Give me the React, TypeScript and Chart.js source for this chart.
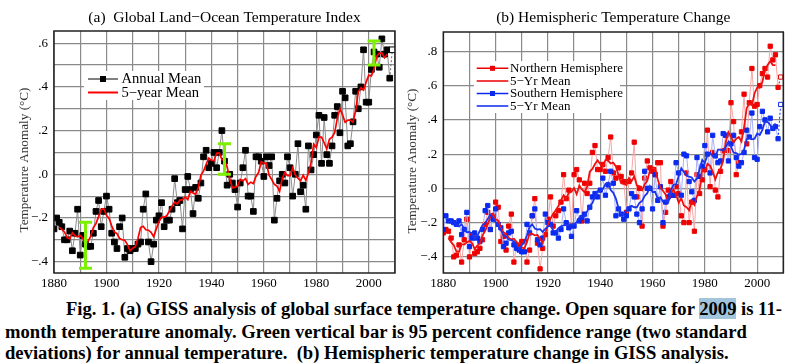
import { useEffect, useRef } from "react";
import { Chart, registerables } from "chart.js";
Chart.register(...registerables);

const FONT = "'Liberation Serif', 'Times New Roman', serif";

const years = [
  1880,1881,1882,1883,1884,1885,1886,1887,1888,1889,
  1890,1891,1892,1893,1894,1895,1896,1897,1898,1899,
  1900,1901,1902,1903,1904,1905,1906,1907,1908,1909,
  1910,1911,1912,1913,1914,1915,1916,1917,1918,1919,
  1920,1921,1922,1923,1924,1925,1926,1927,1928,1929,
  1930,1931,1932,1933,1934,1935,1936,1937,1938,1939,
  1940,1941,1942,1943,1944,1945,1946,1947,1948,1949,
  1950,1951,1952,1953,1954,1955,1956,1957,1958,1959,
  1960,1961,1962,1963,1964,1965,1966,1967,1968,1969,
  1970,1971,1972,1973,1974,1975,1976,1977,1978,1979,
  1980,1981,1982,1983,1984,1985,1986,1987,1988,1989,
  1990,1991,1992,1993,1994,1995,1996,1997,1998,1999,
  2000,2001,2002,2003,2004,2005,2006,2007,2008,2009,
];

const globalAnnual = [
  -0.25,-0.20,-0.22,-0.24,-0.30,-0.30,-0.26,-0.35,-0.27,-0.16,
  -0.37,-0.28,-0.32,-0.33,-0.33,-0.27,-0.17,-0.12,-0.24,-0.17,
  -0.10,-0.16,-0.27,-0.31,-0.34,-0.24,-0.20,-0.38,-0.34,-0.35,
  -0.34,-0.34,-0.32,-0.31,-0.16,-0.09,-0.31,-0.40,-0.32,-0.21,
  -0.19,-0.13,-0.24,-0.21,-0.21,-0.16,-0.02,-0.13,-0.12,-0.25,
  -0.07,-0.01,-0.07,-0.18,-0.06,-0.11,-0.04,0.08,0.11,0.03,
  0.05,0.10,0.03,0.10,0.20,0.06,-0.05,0.00,-0.04,-0.07,
  -0.15,-0.04,0.03,0.11,-0.10,-0.10,-0.17,0.08,0.08,0.06,
  -0.01,0.08,0.04,0.08,-0.21,-0.11,-0.03,0.00,-0.04,0.08,
  0.03,-0.10,0.00,0.14,-0.08,-0.05,-0.16,0.13,0.02,0.09,
  0.18,0.27,0.05,0.26,0.09,0.05,0.13,0.27,0.31,0.19,
  0.38,0.35,0.13,0.14,0.24,0.38,0.30,0.40,0.57,0.33,
  0.33,0.48,0.56,0.55,0.49,0.62,0.55,0.57,0.44,0.57,
];

// 5-year running means, 1882..2007
const globalFiveYear = [
  -0.242,-0.252,-0.264,-0.290,-0.296,-0.268,-0.282,-0.286,-0.280,-0.292,
  -0.326,-0.306,-0.284,-0.244,-0.226,-0.194,-0.160,-0.158,-0.188,-0.202,
  -0.236,-0.264,-0.272,-0.294,-0.300,-0.302,-0.322,-0.350,-0.338,-0.332,
  -0.294,-0.244,-0.238,-0.254,-0.256,-0.266,-0.286,-0.250,-0.218,-0.196,
  -0.196,-0.190,-0.168,-0.146,-0.128,-0.136,-0.118,-0.116,-0.104,-0.116,
  -0.078,-0.086,-0.092,-0.062,-0.004,0.014,0.046,0.074,0.064,0.062,
  0.096,0.098,0.068,0.062,0.034,-0.020,-0.062,-0.060,-0.054,-0.024,
  -0.030,-0.020,-0.046,-0.036,-0.042,-0.010,0.008,0.058,0.050,0.050,
  -0.004,-0.024,-0.046,-0.054,-0.078,-0.020,0.008,-0.006,-0.006,0.030,
  -0.002,-0.018,-0.030,-0.004,-0.028,0.006,0.052,0.138,0.122,0.170,
  0.170,0.144,0.116,0.160,0.170,0.190,0.256,0.300,0.272,0.238,
  0.248,0.248,0.238,0.292,0.378,0.396,0.386,0.422,0.454,0.450,
  0.482,0.540,0.554,0.556,0.534,0.550,
];

const nhAnnual = [
  -0.26,-0.24,-0.25,-0.29,-0.40,-0.39,-0.33,-0.43,-0.30,-0.18,
  -0.40,-0.27,-0.38,-0.37,-0.35,-0.30,-0.21,-0.14,-0.24,-0.16,
  -0.08,-0.11,-0.31,-0.28,-0.36,-0.22,-0.15,-0.43,-0.33,-0.34,
  -0.31,-0.31,-0.43,-0.36,-0.16,-0.06,-0.32,-0.47,-0.35,-0.27,
  -0.18,-0.05,-0.22,-0.16,-0.13,-0.08,0.08,-0.06,-0.01,-0.22,
  0.08,0.11,0.05,-0.19,0.03,-0.03,0.03,0.21,0.25,0.11,
  0.11,0.14,0.10,0.18,0.30,0.09,0.06,0.12,0.07,0.04,
  -0.14,0.04,0.09,0.27,-0.05,0.00,-0.22,0.06,0.16,0.12,
  0.10,0.08,0.15,0.15,-0.22,-0.14,-0.01,0.04,-0.04,0.01,
  -0.03,-0.16,-0.20,0.09,-0.20,-0.08,-0.25,0.08,-0.03,0.05,
  0.11,0.34,0.01,0.21,-0.01,-0.05,0.10,0.22,0.31,0.22,
  0.50,0.39,0.08,0.15,0.33,0.55,0.26,0.50,0.70,0.48,
  0.49,0.60,0.67,0.70,0.65,0.83,0.75,0.78,0.59,0.65,
];

const nhFiveYear = [
  -0.288,-0.314,-0.332,-0.368,-0.370,-0.326,-0.328,-0.316,-0.306,-0.320,
  -0.354,-0.334,-0.322,-0.274,-0.248,-0.210,-0.166,-0.146,-0.180,-0.188,
  -0.228,-0.256,-0.264,-0.288,-0.298,-0.294,-0.312,-0.344,-0.344,-0.350,
  -0.314,-0.264,-0.266,-0.274,-0.272,-0.294,-0.318,-0.264,-0.214,-0.176,
  -0.148,-0.128,-0.102,-0.070,-0.040,-0.058,-0.026,-0.020,0.002,-0.034,
  0.016,-0.006,-0.022,0.010,0.098,0.114,0.142,0.164,0.142,0.128,
  0.166,0.162,0.146,0.150,0.128,0.076,0.030,0.026,0.020,0.060,
  0.042,0.070,0.018,0.012,-0.010,0.024,0.044,0.104,0.122,0.120,
  0.052,0.004,-0.014,-0.036,-0.074,-0.028,-0.006,-0.036,-0.084,-0.058,
  -0.100,-0.110,-0.128,-0.072,-0.096,-0.046,-0.008,0.110,0.096,0.144,
  0.132,0.100,0.052,0.094,0.114,0.160,0.270,0.328,0.300,0.268,
  0.290,0.300,0.274,0.358,0.468,0.498,0.486,0.554,0.588,0.588,
  0.622,0.690,0.720,0.742,0.720,0.720,
];

const shAnnual = [
  -0.24,-0.16,-0.19,-0.19,-0.20,-0.21,-0.19,-0.27,-0.24,-0.14,
  -0.34,-0.29,-0.26,-0.29,-0.31,-0.24,-0.13,-0.10,-0.24,-0.18,
  -0.12,-0.21,-0.23,-0.34,-0.32,-0.26,-0.25,-0.33,-0.35,-0.36,
  -0.37,-0.37,-0.21,-0.26,-0.16,-0.12,-0.30,-0.33,-0.29,-0.15,
  -0.20,-0.21,-0.26,-0.26,-0.29,-0.24,-0.12,-0.20,-0.23,-0.28,
  -0.22,-0.13,-0.19,-0.17,-0.15,-0.19,-0.11,-0.05,-0.03,-0.05,
  -0.01,0.06,-0.04,0.02,0.10,0.03,-0.16,-0.12,-0.15,-0.18,
  -0.16,-0.12,-0.03,-0.05,-0.15,-0.20,-0.12,0.10,0.00,0.00,
  -0.12,0.08,-0.07,0.01,-0.20,-0.08,-0.05,-0.04,-0.04,0.15,
  0.09,-0.04,0.20,0.19,0.04,-0.02,-0.07,0.18,0.07,0.13,
  0.25,0.20,0.09,0.31,0.19,0.15,0.16,0.32,0.31,0.16,
  0.26,0.31,0.18,0.13,0.15,0.21,0.34,0.30,0.44,0.18,
  0.17,0.36,0.45,0.40,0.33,0.41,0.35,0.36,0.29,0.49,
];

const shFiveYear = [
  -0.196,-0.190,-0.196,-0.212,-0.222,-0.210,-0.236,-0.256,-0.254,-0.264,
  -0.298,-0.278,-0.246,-0.214,-0.204,-0.178,-0.154,-0.170,-0.196,-0.216,
  -0.244,-0.272,-0.280,-0.300,-0.302,-0.310,-0.332,-0.356,-0.332,-0.314,
  -0.274,-0.224,-0.210,-0.234,-0.240,-0.238,-0.254,-0.236,-0.222,-0.216,
  -0.244,-0.252,-0.234,-0.222,-0.216,-0.214,-0.210,-0.212,-0.210,-0.198,
  -0.172,-0.166,-0.162,-0.134,-0.106,-0.086,-0.050,-0.016,-0.014,-0.004,
  0.026,0.034,-0.010,-0.026,-0.060,-0.116,-0.154,-0.146,-0.128,-0.108,
  -0.102,-0.110,-0.110,-0.084,-0.074,-0.044,-0.028,0.012,-0.022,-0.020,
  -0.060,-0.052,-0.078,-0.072,-0.082,-0.012,0.022,0.024,0.072,0.118,
  0.096,0.074,0.068,0.064,0.040,0.058,0.112,0.166,0.148,0.196,
  0.208,0.188,0.180,0.226,0.226,0.220,0.242,0.272,0.244,0.208,
  0.206,0.196,0.202,0.226,0.288,0.294,0.286,0.290,0.320,0.312,
  0.342,0.390,0.388,0.370,0.348,0.380,
];

// 95% confidence bars (green)
const ciYears = [1892, 1945, 2002];
const ciLow = [-0.43, 0.0, 0.5];
const ciHigh = [-0.22, 0.14, 0.61];

const xGrid = [1880,1890,1900,1910,1920,1930,1940,1950,1960,1970,1980,1990,2000,2010];
const xLabels = ["1880","","1900","","1920","","1940","","1960","","1980","","2000",""];
const leftYGrid = [-0.4,-0.3,-0.2,-0.1,0,0.1,0.2,0.3,0.4,0.5,0.6];
const leftYLabels = ["\u2212.4","","\u2212.2","",".0","",".2","",".4","",".6"];
const rightYGrid = [-0.4,-0.2,0,0.2,0.4,0.6,0.8];
const rightYLabels = ["\u2212.4","\u2212.2",".0",".2",".4",".6",".8"];

const LAST = years.length - 1;
const fiveYears = years.slice(2, 2 + globalFiveYear.length);

const pts = (xs: number[], ys: number[]) => xs.map((x, i) => ({ x, y: ys[i] }));

const decorPlugin = {
  id: "decor",
  afterDatasetsDraw(chart: any, _args: any, opts: any) {
    const { ctx, scales } = chart;
    if (opts.ci) {
      ctx.save();
      ctx.strokeStyle = opts.ci.color;
      ctx.lineWidth = 3;
      opts.ci.years.forEach((yr: number, i: number) => {
        const x = scales.x.getPixelForValue(yr);
        const y1 = scales.y.getPixelForValue(opts.ci.low[i]);
        const y2 = scales.y.getPixelForValue(opts.ci.high[i]);
        ctx.beginPath();
        ctx.moveTo(x, y1);
        ctx.lineTo(x, y2);
        ctx.moveTo(x - 6.5, y1);
        ctx.lineTo(x + 6.5, y1);
        ctx.moveTo(x - 6.5, y2);
        ctx.lineTo(x + 6.5, y2);
        ctx.stroke();
      });
      ctx.restore();
    }
  },
  afterDraw(chart: any, _args: any, opts: any) {
    const { ctx, chartArea: a } = chart;
    ctx.save();
    // legend
    const lg = opts.legend;
    ctx.fillStyle = "#fff";
    ctx.fillRect(lg.box[0], lg.box[1], lg.box[2], lg.box[3]);
    ctx.font = `${lg.size}px ${FONT}`;
    ctx.textAlign = "left";
    ctx.textBaseline = "middle";
    lg.items.forEach((it: any, i: number) => {
      const y = lg.y + i * lg.rowH;
      ctx.strokeStyle = it.color;
      ctx.lineWidth = it.width;
      ctx.beginPath();
      ctx.moveTo(lg.x0, y);
      ctx.lineTo(lg.x1, y);
      ctx.stroke();
      if (it.marker) {
        ctx.fillStyle = it.color;
        const s = lg.marker;
        ctx.fillRect((lg.x0 + lg.x1) / 2 - s / 2, y - s / 2, s, s);
      }
      ctx.fillStyle = "#000";
      ctx.fillText(it.text, lg.tx, y + 0.5);
    });
    // border
    ctx.strokeStyle = "#222";
    ctx.lineWidth = 1.5;
    ctx.strokeRect(a.left, a.top, a.right - a.left, a.bottom - a.top);
    // title
    ctx.fillStyle = "#000";
    ctx.font = `15.5px ${FONT}`;
    ctx.textAlign = "center";
    ctx.textBaseline = "middle";
    ctx.fillText(opts.title, (a.left + a.right) / 2, opts.titleY);
    // y title
    ctx.translate(opts.yTitleX, opts.yTitleY);
    ctx.rotate(-Math.PI / 2);
    ctx.fillStyle = "#333";
    ctx.font = `13.2px ${FONT}`;
    ctx.fillText("Temperature Anomaly (\u00B0C)", 0, 0);
    ctx.restore();
  },
};

function scalesFor(yMin: number, yMax: number, yGrid: number[], yLabels: string[], yWidth: number) {
  const tickFont = { family: FONT, size: 13 };
  return {
    x: {
      type: "linear",
      min: 1880,
      max: 2010,
      afterBuildTicks: (s: any) => {
        s.ticks = xGrid.map((v) => ({ value: v }));
      },
      afterFit: (s: any) => {
        s.height = 17;
      },
      grid: { color: "#8a8a8a", lineWidth: 1.2, drawTicks: false },
      border: { display: false },
      ticks: {
        autoSkip: false,
        maxRotation: 0,
        padding: 3,
        color: "#000",
        font: tickFont,
        callback: (_v: any, i: number) => xLabels[i],
      },
    },
    y: {
      type: "linear",
      min: yMin,
      max: yMax,
      afterBuildTicks: (s: any) => {
        s.ticks = yGrid.map((v) => ({ value: v }));
      },
      afterFit: (s: any) => {
        s.width = yWidth;
      },
      grid: { color: "#8a8a8a", lineWidth: 1.2, drawTicks: false },
      border: { display: false },
      ticks: {
        autoSkip: false,
        padding: 6,
        color: "#000",
        font: tickFont,
        callback: (_v: any, i: number) => yLabels[i],
      },
    },
  };
}

function lastDash(color: string) {
  return {
    borderDash: (c: any) => (c.p1DataIndex === LAST ? [2, 2] : undefined),
    borderColor: (c: any) => (c.p1DataIndex === LAST ? color : undefined),
  };
}

function openLast(fill: string) {
  return years.map((_, i) => (i === LAST ? "#ffffff" : fill));
}

function LeftChart() {
  const ref = useRef<HTMLCanvasElement>(null);
  useEffect(() => {
    const chart = new Chart(ref.current as HTMLCanvasElement, {
      type: "line",
      data: {
        datasets: [
          {
            label: "5\u2212year Mean",
            data: pts(fiveYears, globalFiveYear),
            borderColor: "#ff0000",
            borderWidth: 1.7,
            pointRadius: 0,
            order: 0,
          },
          {
            label: "Annual Mean",
            data: pts(years, globalAnnual),
            borderColor: "#8c8c8c",
            borderWidth: 1,
            pointStyle: "rect",
            pointRadius: 4,
            pointBorderWidth: 1,
            pointBorderColor: "#000",
            pointBackgroundColor: openLast("#000"),
            segment: lastDash("#666"),
            order: 1,
          },
        ],
      } as any,
      options: {
        responsive: false,
        animation: false,
        events: [],
        layout: { padding: { left: 0, right: 3, top: 31, bottom: 0 } },
        plugins: {
          legend: { display: false },
          tooltip: { enabled: false },
          decor: {
            title: "(a)  Global Land\u2212Ocean Temperature Index",
            titleY: 18,
            yTitleX: 25,
            yTitleY: 160,
            ci: { years: ciYears, low: ciLow, high: ciHigh, color: "#7cf000" },
            legend: {
              box: [84, 71, 120, 29],
              x0: 88,
              x1: 118,
              tx: 121.5,
              y: 79,
              rowH: 13.5,
              size: 14.6,
              marker: 6,
              items: [
                { text: "Annual Mean", color: "#000", width: 1, marker: true },
                { text: "5\u2212year Mean", color: "#ff0000", width: 2, marker: false },
              ],
            },
          },
        } as any,
        scales: scalesFor(-0.452, 0.656, leftYGrid, leftYLabels, 54) as any,
      },
      plugins: [decorPlugin],
    });
    return () => chart.destroy();
  }, []);
  return <canvas ref={ref} width={400} height={290} style={{ position: "absolute", left: 0, top: 0 }} />;
}

function RightChart() {
  const ref = useRef<HTMLCanvasElement>(null);
  useEffect(() => {
    const chart = new Chart(ref.current as HTMLCanvasElement, {
      type: "line",
      data: {
        datasets: [
          {
            label: "SH 5-Yr Mean",
            data: pts(fiveYears, shFiveYear),
            borderColor: "#1a35f0",
            borderWidth: 1.8,
            pointRadius: 0,
            order: 0,
          },
          {
            label: "NH 5-Yr Mean",
            data: pts(fiveYears, nhFiveYear),
            borderColor: "#f01010",
            borderWidth: 1.8,
            pointRadius: 0,
            order: 1,
          },
          {
            label: "Southern Hemisphere",
            data: pts(years, shAnnual),
            borderColor: "#a9b0f7",
            borderWidth: 1,
            pointStyle: "rect",
            pointRadius: 3,
            pointBorderWidth: 1,
            pointBorderColor: "#0a2af0",
            pointBackgroundColor: openLast("#0a2af0"),
            segment: lastDash("#0a2af0"),
            order: 2,
          },
          {
            label: "Northern Hemisphere",
            data: pts(years, nhAnnual),
            borderColor: "#f6a6a6",
            borderWidth: 1,
            pointStyle: "rect",
            pointRadius: 3,
            pointBorderWidth: 1,
            pointBorderColor: "#ee0000",
            pointBackgroundColor: openLast("#ee0000"),
            segment: lastDash("#ee0000"),
            order: 3,
          },
        ],
      } as any,
      options: {
        responsive: false,
        animation: false,
        events: [],
        layout: { padding: { left: 0, right: 12.7, top: 32, bottom: 0 } },
        plugins: {
          legend: { display: false },
          tooltip: { enabled: false },
          decor: {
            title: "(b) Hemispheric Temperature Change",
            titleY: 18,
            yTitleX: 13,
            yTitleY: 161,
            legend: {
              box: [74, 61, 146, 52],
              x0: 76.7,
              x1: 108.3,
              tx: 110,
              y: 68.3,
              rowH: 12.6,
              size: 13,
              marker: 5,
              items: [
                { text: "Northern Hemisphere", color: "#ee0000", width: 1.5, marker: true },
                { text: "5\u2212Yr Mean", color: "#ee0000", width: 1.5, marker: false },
                { text: "Southern Hemisphere", color: "#0a2af0", width: 1.5, marker: true },
                { text: "5\u2212Yr Mean", color: "#0a2af0", width: 1.5, marker: false },
              ],
            },
          },
        } as any,
        scales: scalesFor(-0.494, 0.913, rightYGrid, rightYLabels, 43.3) as any,
      },
      plugins: [decorPlugin],
    });
    return () => chart.destroy();
  }, []);
  return <canvas ref={ref} width={396} height={290} style={{ position: "absolute", left: 400, top: 0 }} />;
}

const captionStyle: any = {
  position: "absolute",
  whiteSpace: "nowrap",
  fontFamily: FONT,
  fontWeight: "bold",
  fontSize: "18.6px",
  lineHeight: "22px",
  color: "#000",
};

export default function App() {
  return (
    <div style={{ position: "fixed", left: 0, top: 0, width: 796, height: 364, background: "#fff", overflow: "hidden" }}>
      <LeftChart />
      <RightChart />
      <div style={{ ...captionStyle, left: 66, top: 298 }}>
        Fig. 1. (a) GISS analysis of global surface temperature change. Open square for{" "}
        <span style={{ background: "#a2c5dd" }}>2009</span> is 11-
      </div>
      <div style={{ ...captionStyle, left: 5, top: 321 }}>
        month temperature anomaly. Green vertical bar is 95 percent confidence range (two standard
      </div>
      <div style={{ ...captionStyle, left: 5, top: 342 }}>
        deviations) for annual temperature.&nbsp; (b) Hemispheric temperature change in GISS analysis.
      </div>
    </div>
  );
}
